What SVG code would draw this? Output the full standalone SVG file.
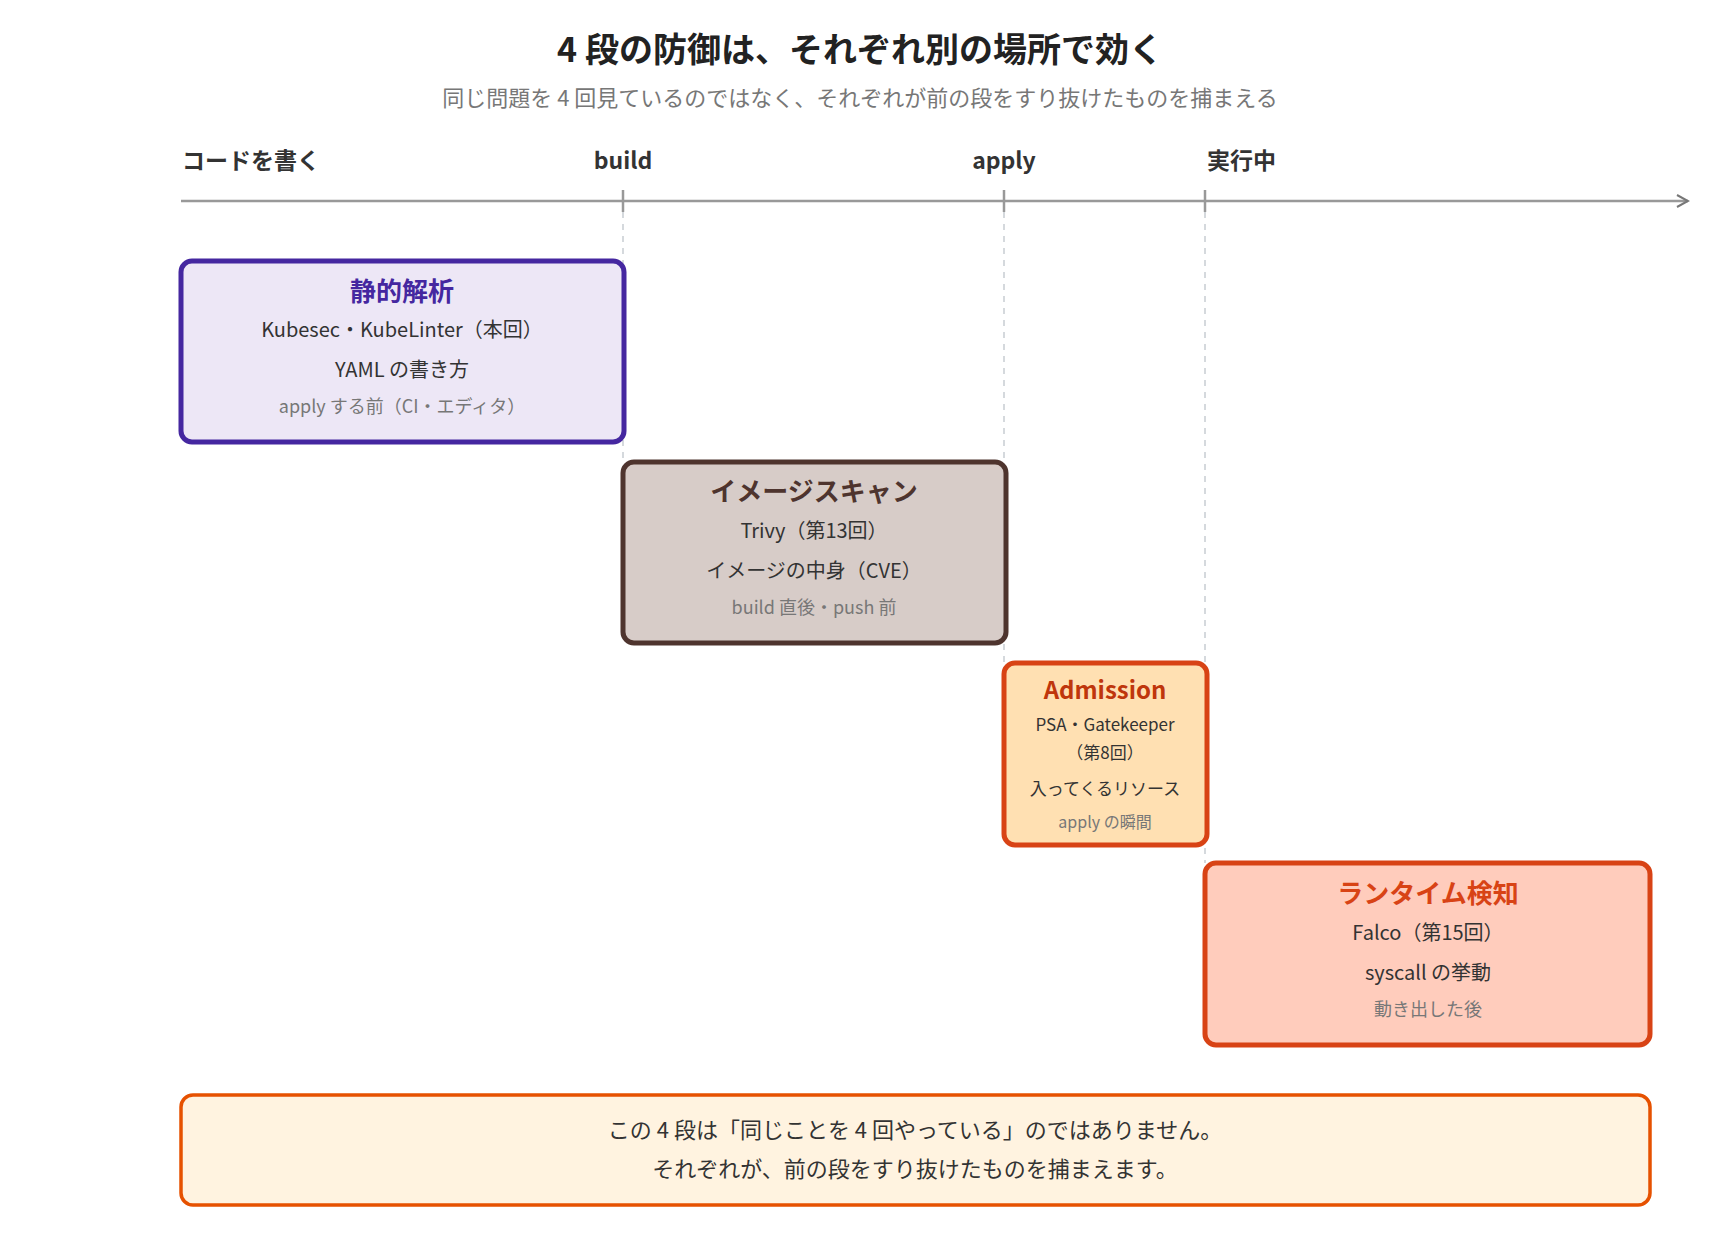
<svg xmlns="http://www.w3.org/2000/svg" width="1720" height="1240" viewBox="0 0 1720 1240">
<style>
text{font-family:"Noto Sans CJK JP","Noto Sans",sans-serif;text-anchor:middle}
.t{font-size:34px;font-weight:bold;fill:#222}
.st{font-size:22px;fill:#777}
.ax{font-size:23px;font-weight:bold;fill:#333}
.h{font-size:26px;font-weight:bold}
.l{font-size:20px;fill:#333}
.s{font-size:18px;fill:#777}
.hs{font-size:24px;font-weight:bold}
.ls{font-size:17px;fill:#333}
.ss{font-size:16px;fill:#777}
.dash{stroke:#c8cdd2;stroke-width:1.5;stroke-dasharray:6 6}
</style>
<defs><marker id="ar" markerWidth="14" markerHeight="14" refX="12" refY="7" orient="auto" markerUnits="userSpaceOnUse"><path d="M1,1 L12,7 L1,13" fill="none" stroke="#777" stroke-width="2"/></marker></defs>
<text class="t" x="860" y="62">4 段の防御は、それぞれ別の場所で効く</text>
<text class="st" x="860" y="106">同じ問題を 4 回見ているのではなく、それぞれが前の段をすり抜けたものを捕まえる</text>
<g id="connectors">
<line x1="181" y1="201" x2="1688" y2="201" stroke="#999" stroke-width="2.5" marker-end="url(#ar)"/>
<line x1="623" y1="190" x2="623" y2="212" stroke="#999" stroke-width="2.5"/>
<line x1="1004" y1="190" x2="1004" y2="212" stroke="#999" stroke-width="2.5"/>
<line x1="1205" y1="190" x2="1205" y2="212" stroke="#999" stroke-width="2.5"/>
<line class="dash" x1="623" y1="212" x2="623" y2="462"/>
<line class="dash" x1="1004" y1="212" x2="1004" y2="663"/>
<line class="dash" x1="1205" y1="212" x2="1205" y2="863"/>
<text class="ax" x="182" y="169" style="text-anchor:start">コードを書く</text>
<text class="ax" x="623" y="169">build</text>
<text class="ax" x="1004" y="169">apply</text>
<text class="ax" x="1207" y="169" style="text-anchor:start">実行中</text>
</g>
<g id="static">
<rect x="181" y="261" width="443" height="181" rx="11" fill="#ede7f6" stroke="#4527a0" stroke-width="5"/>
<text class="h" x="402" y="301" fill="#4527a0">静的解析</text>
<text class="l" x="402" y="337">Kubesec・KubeLinter（本回）</text>
<text class="l" x="402" y="377">YAML の書き方</text>
<text class="s" x="402" y="413">apply する前（CI・エディタ）</text>
</g>
<g id="imagescan">
<rect x="623" y="462" width="383" height="181" rx="11" fill="#d7ccc8" stroke="#4e342e" stroke-width="5"/>
<text class="h" x="814" y="501" fill="#4e342e">イメージスキャン</text>
<text class="l" x="814" y="538">Trivy（第13回）</text>
<text class="l" x="814" y="578">イメージの中身（CVE）</text>
<text class="s" x="814" y="614">build 直後・push 前</text>
</g>
<g id="admission">
<rect x="1004" y="663" width="203" height="182" rx="11" fill="#ffe0b2" stroke="#d84315" stroke-width="5"/>
<text class="hs" x="1105" y="699" fill="#bf360c">Admission</text>
<text class="ls" x="1105" y="731">PSA・Gatekeeper</text>
<text class="ls" x="1105" y="759">（第8回）</text>
<text class="ls" x="1105" y="795">入ってくるリソース</text>
<text class="ss" x="1105" y="828">apply の瞬間</text>
</g>
<g id="runtime">
<rect x="1205" y="863" width="445" height="182" rx="11" fill="#ffccbc" stroke="#d84315" stroke-width="5"/>
<text class="h" x="1428" y="903" fill="#d84315">ランタイム検知</text>
<text class="l" x="1428" y="940">Falco（第15回）</text>
<text class="l" x="1428" y="980">syscall の挙動</text>
<text class="s" x="1428" y="1016">動き出した後</text>
</g>
<g id="note">
<rect x="181" y="1095" width="1469" height="110" rx="12" fill="#fff3e0" stroke="#e65100" stroke-width="3.5"/>
<text class="l" x="915" y="1138" style="font-size:22px">この 4 段は「同じことを 4 回やっている」のではありません。</text>
<text class="l" x="915" y="1177" style="font-size:22px">それぞれが、前の段をすり抜けたものを捕まえます。</text>
</g>
</svg>
